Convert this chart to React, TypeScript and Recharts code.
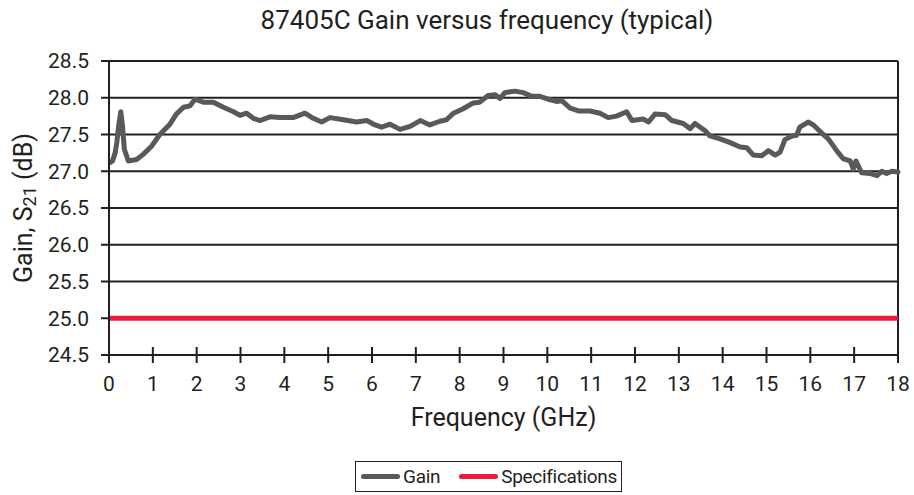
import { LineChart, Line, XAxis, YAxis, CartesianGrid, ReferenceLine } from "recharts";

// Gain trace (GHz, dB)
const gainFreq = [
  0.03, 0.08, 0.14, 0.18, 0.22, 0.27, 0.31, 0.35, 0.44, 0.63, 0.78, 0.97, 1.16, 1.39, 1.54, 1.7, 1.85, 1.96,
  2.15, 2.38, 2.61, 2.84, 2.99, 3.14, 3.29, 3.45, 3.67, 3.9, 4.2, 4.47, 4.66, 4.85, 5.04, 5.35, 5.65, 5.88,
  6.07, 6.22, 6.41, 6.64, 6.87, 7.1, 7.32, 7.55, 7.7, 7.86, 8.08, 8.31, 8.46, 8.65, 8.81, 8.92, 9.03, 9.26,
  9.45, 9.64, 9.83, 10.02, 10.21, 10.33, 10.52, 10.71, 10.97, 11.2, 11.39, 11.58, 11.81, 11.93, 12.19, 12.31,
  12.46, 12.69, 12.84, 13.1, 13.26, 13.37, 13.6, 13.71, 13.94, 14.17, 14.4, 14.55, 14.7, 14.89, 15.04, 15.2,
  15.31, 15.42, 15.58, 15.69, 15.76, 15.95, 16.07, 16.26, 16.41, 16.6, 16.75, 16.91, 16.98, 17.04, 17.17,
  17.36, 17.52, 17.63, 17.74, 17.86, 18.0,
];
const gainValues = [
  27.12, 27.14, 27.25, 27.4, 27.62, 27.81, 27.6, 27.3, 27.14, 27.16, 27.23, 27.34, 27.5, 27.64, 27.78, 27.87, 27.89, 27.98,
  27.94, 27.94, 27.87, 27.81, 27.76, 27.79, 27.72, 27.69, 27.74, 27.73, 27.73, 27.79, 27.72, 27.67, 27.73, 27.7, 27.67, 27.69,
  27.63, 27.6, 27.64, 27.57, 27.61, 27.69, 27.63, 27.68, 27.7, 27.79, 27.85, 27.93, 27.94, 28.03, 28.04, 27.99, 28.07, 28.09,
  28.07, 28.02, 28.02, 27.98, 27.95, 27.96, 27.86, 27.82, 27.82, 27.79, 27.73, 27.75, 27.81, 27.69, 27.71, 27.67,
  27.78, 27.77, 27.69, 27.65, 27.58, 27.65, 27.55, 27.48, 27.44, 27.39, 27.33, 27.32, 27.22, 27.21, 27.28, 27.22,
  27.26, 27.43, 27.48, 27.49, 27.6, 27.67, 27.63, 27.52, 27.44, 27.28, 27.17, 27.14, 27.03, 27.14, 26.98,
  26.97, 26.94, 27.0, 26.97, 27.0, 26.99,
];

// Specification limit
const specFreq = [0, 18];
const specValues = [25, 25];

const xTicks = [0, 1, 2, 3, 4, 5, 6, 7, 8, 9, 10, 11, 12, 13, 14, 15, 16, 17, 18];
const yTicks = [24.5, 25, 25.5, 26, 26.5, 27, 27.5, 28, 28.5];

const gainData = gainFreq.map((f, i) => ({ f, gain: gainValues[i] }));
const specData = specFreq.map((f, i) => ({ f, spec: specValues[i] }));

const ink = "#231f20";
const gainColor = "#595959";
const specColor = "#ed1b3a";
const font = "Roboto, sans-serif";

// x ticks cross the axis line
const FreqTick = (props: any) => {
  const { x, y, payload } = props;
  return (
    <g>
      <line x1={x} x2={x} y1={y - 8} y2={y + 8} stroke={ink} strokeWidth={2} />
      <text x={x} y={y + 36} textAnchor="middle" fill={ink} fontSize={21} fontFamily={font}>
        {payload.value}
      </text>
    </g>
  );
};

const GainLabel = (props: any) => {
  const { viewBox } = props;
  const cx = viewBox.x + 23;
  const cy = viewBox.y + viewBox.height / 2;
  return (
    <text
      transform={`translate(${cx},${cy}) rotate(-90)`}
      textAnchor="middle"
      dominantBaseline="central"
      fill={ink}
      fontSize={25}
      fontFamily={font}
    >
      Gain, S<tspan fontSize={18} dy={6}>21</tspan>
      <tspan dy={-6}> (dB)</tspan>
    </text>
  );
};

const FreqLabel = (props: any) => {
  const { viewBox } = props;
  return (
    <text
      x={viewBox.x + viewBox.width / 2}
      y={viewBox.y + 71}
      textAnchor="middle"
      fill={ink}
      fontSize={25}
      fontFamily={font}
    >
      Frequency (GHz)
    </text>
  );
};

const legendItems = [
  { name: "Gain", color: gainColor },
  { name: "Specifications", color: specColor },
];

const App = () => {
  return (
    <div style={{ position: "absolute", left: 0, top: 0, width: 914, height: 495, background: "#fff", fontFamily: font }}>
      <div
        style={{
          position: "absolute",
          left: 30,
          top: 5,
          width: 914,
          textAlign: "center",
          fontSize: 26,
          lineHeight: "30px",
          color: ink,
        }}
      >
        87405C Gain versus frequency (typical)
      </div>

      <LineChart width={914} height={495} margin={{ top: 61, right: 16, bottom: 80, left: 0 }}>
        <CartesianGrid vertical={false} stroke={ink} strokeWidth={2} />
        <XAxis
          dataKey="f"
          type="number"
          domain={[0, 18]}
          ticks={xTicks}
          interval={0}
          height={60}
          tickSize={0}
          tickMargin={0}
          tickLine={false}
          axisLine={{ stroke: ink, strokeWidth: 2 }}
          tick={<FreqTick />}
          label={<FreqLabel />}
        />
        <YAxis
          type="number"
          domain={[24.5, 28.5]}
          ticks={yTicks}
          interval={0}
          width={109}
          tickSize={8}
          tickMargin={12}
          tickFormatter={(v: number) => v.toFixed(1)}
          tick={{ fill: ink, fontSize: 21, fontFamily: font }}
          tickLine={{ stroke: ink, strokeWidth: 2 }}
          axisLine={{ stroke: ink, strokeWidth: 2 }}
          label={<GainLabel />}
        />
        <ReferenceLine x={18} stroke={ink} strokeWidth={2} />
        <Line
          data={specData}
          dataKey="spec"
          type="linear"
          stroke={specColor}
          strokeWidth={5}
          dot={false}
          isAnimationActive={false}
        />
        <Line
          data={gainData}
          dataKey="gain"
          type="linear"
          stroke={gainColor}
          strokeWidth={5}
          strokeLinejoin="round"
          strokeLinecap="round"
          dot={false}
          isAnimationActive={false}
        />
      </LineChart>

      <div
        style={{
          position: "absolute",
          left: 355,
          top: 461,
          width: 260,
          height: 29,
          border: `1.5px solid ${ink}`,
          display: "flex",
          alignItems: "center",
          paddingLeft: 5,
          boxSizing: "content-box",
        }}
      >
        {legendItems.map((item, i) => (
          <div key={i} style={{ display: "flex", alignItems: "center", marginRight: i === 0 ? 19 : 0 }}>
            <div style={{ width: 39, height: 5, borderRadius: 3, background: item.color, marginRight: 3 }} />
            <span style={{ fontSize: 19, letterSpacing: -0.3, color: ink }}>{item.name}</span>
          </div>
        ))}
      </div>
    </div>
  );
};

export default App;
